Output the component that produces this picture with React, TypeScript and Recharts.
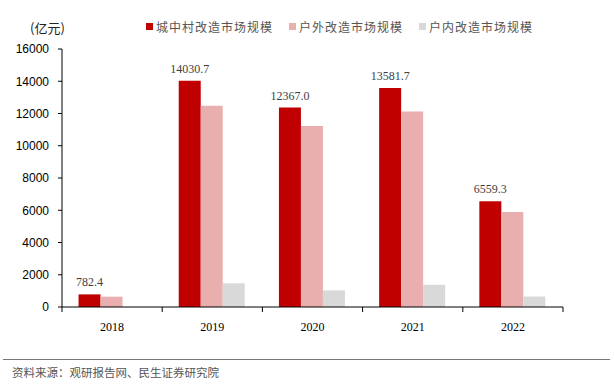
import { BarChart, Bar, XAxis, YAxis, LabelList } from "recharts"

const years = ["2018", "2019", "2020", "2021", "2022"]
const urbanVillage = [782.4, 14030.7, 12367.0, 13581.7, 6559.3]
const outdoor = [640, 12480, 11230, 12120, 5890]
const indoor = [null, 1470, 1030, 1380, 650]
const yTicks = [0, 2000, 4000, 6000, 8000, 10000, 12000, 14000, 16000]

const seriesNames = ["城中村改造市场规模", "户外改造市场规模", "户内改造市场规模"]
const colors = ["#C00000", "#E9AEAE", "#D9D9D9"]

const data = years.map((year, i) => ({
  year,
  urban: urbanVillage[i],
  outdoor: outdoor[i],
  indoor: indoor[i],
}))

const W = 614
const H = 384
const plotLeft = 62
const plotRight = 563
const bandHalf = (plotRight - plotLeft) / years.length / 2

const serif = "'Liberation Serif', 'Times New Roman', serif"
const cjk = "'Noto Sans CJK SC', sans-serif"

function XTick(props: any) {
  const { x, y, payload, index } = props
  const last = index === years.length - 1
  return (
    <g>
      <line x1={x - bandHalf} y1={y - 8} x2={x - bandHalf} y2={y - 3} stroke="#000" />
      {last && <line x1={x + bandHalf} y1={y - 8} x2={x + bandHalf} y2={y - 3} stroke="#000" />}
      <text x={x} y={y + 16} textAnchor="middle" fontFamily={serif} fontSize={12} fill="#000">
        {payload.value}
      </text>
    </g>
  )
}

export default function App() {
  return (
    <div style={{ position: "absolute", left: 0, top: 0, width: W, height: H, background: "#fff" }}>
      <div
        style={{
          position: "absolute",
          left: 30,
          top: 18,
          fontFamily: cjk,
          fontSize: 13,
          color: "#222",
        }}
      >
        (亿元)
      </div>
      <div
        style={{
          position: "absolute",
          left: 146,
          top: 18,
          display: "flex",
          fontFamily: cjk,
          fontSize: 12,
          color: "#555",
          letterSpacing: 1,
        }}
      >
        {seriesNames.map((name, i) => (
          <div key={name} style={{ display: "flex", alignItems: "center", marginRight: 16 }}>
            <span style={{ width: 7, height: 7, background: colors[i], marginRight: 3 }} />
            {name}
          </div>
        ))}
      </div>
      <BarChart
        width={W}
        height={H}
        data={data}
        margin={{ top: 49, right: W - plotRight, left: 0, bottom: H - 307 - 30 }}
        barCategoryGap="16.5%"
        barGap={0}
      >
        <YAxis
          width={plotLeft}
          domain={[0, 16000]}
          ticks={yTicks}
          interval={0}
          axisLine={{ stroke: "#000" }}
          tickLine={{ stroke: "#000" }}
          tickSize={4}
          tickMargin={9}
          tick={{ fontFamily: "'Liberation Sans', Arial, sans-serif", fontSize: 12, fill: "#000" }}
        />
        <XAxis
          dataKey="year"
          height={30}
          axisLine={{ stroke: "#000" }}
          tickLine={false}
          tick={<XTick />}
          interval={0}
        />
        <Bar dataKey="urban" fill={colors[0]} isAnimationActive={false}>
          <LabelList
            dataKey="urban"
            position="top"
            offset={8}
            formatter={(v: any) => Number(v).toFixed(1)}
            style={{ fontFamily: serif, fontSize: 12, fill: "#404040" }}
          />
        </Bar>
        <Bar dataKey="outdoor" fill={colors[1]} isAnimationActive={false} />
        <Bar dataKey="indoor" fill={colors[2]} isAnimationActive={false} />
      </BarChart>
      <div
        style={{
          position: "absolute",
          left: 3,
          top: 359,
          width: 607,
          height: 0,
          borderTop: "1px solid #777",
        }}
      />
      <div
        style={{
          position: "absolute",
          left: 12,
          top: 364,
          fontFamily: cjk,
          fontSize: 11.5,
          color: "#555",
        }}
      >
        资料来源：观研报告网、民生证券研究院
      </div>
    </div>
  )
}
